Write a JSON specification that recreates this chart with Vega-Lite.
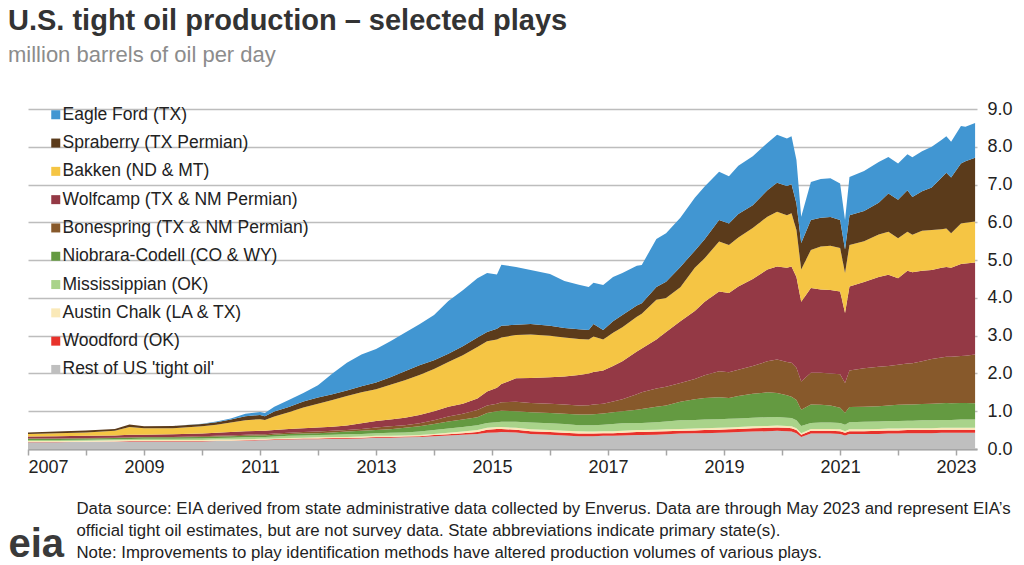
{
  "$schema": "https://vega.github.io/schema/vega-lite/v6.json",
  "width": 949,
  "height": 340,
  "autosize": "none",
  "padding": {"left": 28, "top": 109, "right": 47, "bottom": 116},
  "background": "white",
  "title": {
    "text": "U.S. tight oil production – selected plays",
    "subtitle": "million barrels of oil per day",
    "anchor": "start",
    "frame": "group",
    "dx": -20,
    "offset": 34,
    "font": "Liberation Sans",
    "fontSize": 29,
    "fontWeight": "bold",
    "color": "#333333",
    "subtitleFont": "Liberation Sans",
    "subtitleFontSize": 22,
    "subtitleColor": "#8c8c8c",
    "subtitlePadding": 9
  },
  "datasets": {
    "plays": [
      {"key": "eagleford", "label": "Eagle Ford (TX)", "ord": 9},
      {"key": "spraberry", "label": "Spraberry (TX Permian)", "ord": 8},
      {"key": "bakken", "label": "Bakken (ND & MT)", "ord": 7},
      {"key": "wolfcamp", "label": "Wolfcamp (TX & NM Permian)", "ord": 6},
      {"key": "bone", "label": "Bonespring (TX & NM Permian)", "ord": 5},
      {"key": "niobrara", "label": "Niobrara-Codell (CO & WY)", "ord": 4},
      {"key": "miss", "label": "Mississippian (OK)", "ord": 3},
      {"key": "chalk", "label": "Austin Chalk (LA & TX)", "ord": 2},
      {"key": "woodford", "label": "Woodford (OK)", "ord": 1},
      {"key": "rest", "label": "Rest of US 'tight oil'", "ord": 0}
    ],
    "production": [
      {"date": "2007-01-01", "rest": 0.18, "woodford": 0.005, "chalk": 0.025, "miss": 0.025, "niobrara": 0.035, "bone": 0.01, "wolfcamp": 0.05, "bakken": 0.07, "spraberry": 0.04, "eagleford": 0},
      {"date": "2007-07-01", "rest": 0.18, "woodford": 0.005, "chalk": 0.025, "miss": 0.025, "niobrara": 0.035, "bone": 0.01, "wolfcamp": 0.06, "bakken": 0.08, "spraberry": 0.04, "eagleford": 0},
      {"date": "2008-01-01", "rest": 0.19, "woodford": 0.005, "chalk": 0.025, "miss": 0.025, "niobrara": 0.035, "bone": 0.01, "wolfcamp": 0.06, "bakken": 0.09, "spraberry": 0.05, "eagleford": 0},
      {"date": "2008-07-01", "rest": 0.19, "woodford": 0.01, "chalk": 0.03, "miss": 0.025, "niobrara": 0.035, "bone": 0.01, "wolfcamp": 0.06, "bakken": 0.12, "spraberry": 0.05, "eagleford": 0},
      {"date": "2008-10-01", "rest": 0.2, "woodford": 0.01, "chalk": 0.03, "miss": 0.025, "niobrara": 0.035, "bone": 0.01, "wolfcamp": 0.07, "bakken": 0.2, "spraberry": 0.07, "eagleford": 0},
      {"date": "2009-01-01", "rest": 0.2, "woodford": 0.01, "chalk": 0.03, "miss": 0.03, "niobrara": 0.04, "bone": 0.01, "wolfcamp": 0.06, "bakken": 0.17, "spraberry": 0.05, "eagleford": 0},
      {"date": "2009-07-01", "rest": 0.2, "woodford": 0.01, "chalk": 0.03, "miss": 0.03, "niobrara": 0.04, "bone": 0.01, "wolfcamp": 0.07, "bakken": 0.16, "spraberry": 0.06, "eagleford": 0},
      {"date": "2010-01-01", "rest": 0.2, "woodford": 0.01, "chalk": 0.03, "miss": 0.04, "niobrara": 0.04, "bone": 0.02, "wolfcamp": 0.07, "bakken": 0.19, "spraberry": 0.06, "eagleford": 0.01},
      {"date": "2010-04-01", "rest": 0.21, "woodford": 0.01, "chalk": 0.03, "miss": 0.04, "niobrara": 0.04, "bone": 0.02, "wolfcamp": 0.08, "bakken": 0.21, "spraberry": 0.07, "eagleford": 0.02},
      {"date": "2010-07-01", "rest": 0.21, "woodford": 0.01, "chalk": 0.03, "miss": 0.05, "niobrara": 0.04, "bone": 0.02, "wolfcamp": 0.09, "bakken": 0.25, "spraberry": 0.08, "eagleford": 0.03},
      {"date": "2010-10-01", "rest": 0.22, "woodford": 0.01, "chalk": 0.03, "miss": 0.05, "niobrara": 0.04, "bone": 0.03, "wolfcamp": 0.09, "bakken": 0.29, "spraberry": 0.11, "eagleford": 0.06},
      {"date": "2011-01-01", "rest": 0.23, "woodford": 0.015, "chalk": 0.025, "miss": 0.05, "niobrara": 0.04, "bone": 0.03, "wolfcamp": 0.09, "bakken": 0.31, "spraberry": 0.11, "eagleford": 0.08},
      {"date": "2011-02-01", "rest": 0.23, "woodford": 0.015, "chalk": 0.025, "miss": 0.05, "niobrara": 0.04, "bone": 0.03, "wolfcamp": 0.09, "bakken": 0.29, "spraberry": 0.1, "eagleford": 0.08},
      {"date": "2011-04-01", "rest": 0.24, "woodford": 0.015, "chalk": 0.025, "miss": 0.05, "niobrara": 0.05, "bone": 0.03, "wolfcamp": 0.09, "bakken": 0.36, "spraberry": 0.13, "eagleford": 0.13},
      {"date": "2011-07-01", "rest": 0.25, "woodford": 0.015, "chalk": 0.025, "miss": 0.06, "niobrara": 0.05, "bone": 0.03, "wolfcamp": 0.1, "bakken": 0.44, "spraberry": 0.14, "eagleford": 0.19},
      {"date": "2011-10-01", "rest": 0.26, "woodford": 0.015, "chalk": 0.025, "miss": 0.06, "niobrara": 0.05, "bone": 0.04, "wolfcamp": 0.1, "bakken": 0.55, "spraberry": 0.16, "eagleford": 0.22},
      {"date": "2012-01-01", "rest": 0.26, "woodford": 0.02, "chalk": 0.03, "miss": 0.06, "niobrara": 0.05, "bone": 0.04, "wolfcamp": 0.11, "bakken": 0.63, "spraberry": 0.16, "eagleford": 0.33},
      {"date": "2012-04-01", "rest": 0.27, "woodford": 0.02, "chalk": 0.03, "miss": 0.06, "niobrara": 0.06, "bone": 0.04, "wolfcamp": 0.11, "bakken": 0.71, "spraberry": 0.15, "eagleford": 0.55},
      {"date": "2012-07-01", "rest": 0.27, "woodford": 0.02, "chalk": 0.03, "miss": 0.07, "niobrara": 0.07, "bone": 0.04, "wolfcamp": 0.12, "bakken": 0.78, "spraberry": 0.15, "eagleford": 0.73},
      {"date": "2012-10-01", "rest": 0.28, "woodford": 0.02, "chalk": 0.03, "miss": 0.07, "niobrara": 0.08, "bone": 0.05, "wolfcamp": 0.15, "bakken": 0.82, "spraberry": 0.16, "eagleford": 0.84},
      {"date": "2013-01-01", "rest": 0.3, "woodford": 0.02, "chalk": 0.03, "miss": 0.07, "niobrara": 0.08, "bone": 0.07, "wolfcamp": 0.17, "bakken": 0.84, "spraberry": 0.18, "eagleford": 0.89},
      {"date": "2013-04-01", "rest": 0.3, "woodford": 0.02, "chalk": 0.03, "miss": 0.08, "niobrara": 0.09, "bone": 0.08, "wolfcamp": 0.18, "bakken": 0.92, "spraberry": 0.2, "eagleford": 0.95},
      {"date": "2013-07-01", "rest": 0.31, "woodford": 0.02, "chalk": 0.03, "miss": 0.08, "niobrara": 0.12, "bone": 0.07, "wolfcamp": 0.2, "bakken": 0.99, "spraberry": 0.24, "eagleford": 1.02},
      {"date": "2013-10-01", "rest": 0.32, "woodford": 0.02, "chalk": 0.03, "miss": 0.09, "niobrara": 0.14, "bone": 0.08, "wolfcamp": 0.22, "bakken": 1.06, "spraberry": 0.26, "eagleford": 1.08},
      {"date": "2014-01-01", "rest": 0.34, "woodford": 0.03, "chalk": 0.03, "miss": 0.1, "niobrara": 0.16, "bone": 0.1, "wolfcamp": 0.24, "bakken": 1.12, "spraberry": 0.23, "eagleford": 1.2},
      {"date": "2014-04-01", "rest": 0.36, "woodford": 0.03, "chalk": 0.04, "miss": 0.11, "niobrara": 0.19, "bone": 0.13, "wolfcamp": 0.26, "bakken": 1.18, "spraberry": 0.22, "eagleford": 1.4},
      {"date": "2014-07-01", "rest": 0.38, "woodford": 0.04, "chalk": 0.04, "miss": 0.12, "niobrara": 0.2, "bone": 0.15, "wolfcamp": 0.27, "bakken": 1.28, "spraberry": 0.24, "eagleford": 1.48},
      {"date": "2014-10-01", "rest": 0.4, "woodford": 0.05, "chalk": 0.05, "miss": 0.13, "niobrara": 0.21, "bone": 0.19, "wolfcamp": 0.31, "bakken": 1.36, "spraberry": 0.25, "eagleford": 1.57},
      {"date": "2014-12-01", "rest": 0.43, "woodford": 0.08, "chalk": 0.05, "miss": 0.13, "niobrara": 0.26, "bone": 0.2, "wolfcamp": 0.37, "bakken": 1.33, "spraberry": 0.25, "eagleford": 1.56},
      {"date": "2015-02-01", "rest": 0.44, "woodford": 0.09, "chalk": 0.05, "miss": 0.13, "niobrara": 0.29, "bone": 0.2, "wolfcamp": 0.42, "bakken": 1.28, "spraberry": 0.28, "eagleford": 1.44},
      {"date": "2015-03-01", "rest": 0.45, "woodford": 0.08, "chalk": 0.05, "miss": 0.14, "niobrara": 0.29, "bone": 0.23, "wolfcamp": 0.48, "bakken": 1.23, "spraberry": 0.31, "eagleford": 1.62},
      {"date": "2015-06-01", "rest": 0.44, "woodford": 0.07, "chalk": 0.05, "miss": 0.16, "niobrara": 0.28, "bone": 0.25, "wolfcamp": 0.62, "bakken": 1.15, "spraberry": 0.27, "eagleford": 1.53},
      {"date": "2015-09-01", "rest": 0.4, "woodford": 0.07, "chalk": 0.05, "miss": 0.18, "niobrara": 0.27, "bone": 0.25, "wolfcamp": 0.66, "bakken": 1.15, "spraberry": 0.28, "eagleford": 1.43},
      {"date": "2016-01-01", "rest": 0.38, "woodford": 0.07, "chalk": 0.05, "miss": 0.18, "niobrara": 0.27, "bone": 0.25, "wolfcamp": 0.7, "bakken": 1.1, "spraberry": 0.26, "eagleford": 1.37},
      {"date": "2016-04-01", "rest": 0.36, "woodford": 0.07, "chalk": 0.05, "miss": 0.18, "niobrara": 0.27, "bone": 0.25, "wolfcamp": 0.74, "bakken": 1.03, "spraberry": 0.25, "eagleford": 1.25},
      {"date": "2016-07-01", "rest": 0.34, "woodford": 0.07, "chalk": 0.06, "miss": 0.16, "niobrara": 0.28, "bone": 0.24, "wolfcamp": 0.81, "bakken": 0.95, "spraberry": 0.26, "eagleford": 1.18},
      {"date": "2016-09-01", "rest": 0.34, "woodford": 0.07, "chalk": 0.05, "miss": 0.17, "niobrara": 0.28, "bone": 0.25, "wolfcamp": 0.84, "bakken": 0.9, "spraberry": 0.25, "eagleford": 1.14},
      {"date": "2016-10-01", "rest": 0.34, "woodford": 0.07, "chalk": 0.05, "miss": 0.17, "niobrara": 0.29, "bone": 0.26, "wolfcamp": 0.86, "bakken": 0.94, "spraberry": 0.33, "eagleford": 1.09},
      {"date": "2016-12-01", "rest": 0.35, "woodford": 0.07, "chalk": 0.05, "miss": 0.17, "niobrara": 0.3, "bone": 0.26, "wolfcamp": 0.88, "bakken": 0.82, "spraberry": 0.25, "eagleford": 1.19},
      {"date": "2017-02-01", "rest": 0.35, "woodford": 0.07, "chalk": 0.05, "miss": 0.19, "niobrara": 0.31, "bone": 0.29, "wolfcamp": 0.94, "bakken": 0.88, "spraberry": 0.3, "eagleford": 1.17},
      {"date": "2017-04-01", "rest": 0.36, "woodford": 0.07, "chalk": 0.05, "miss": 0.2, "niobrara": 0.32, "bone": 0.32, "wolfcamp": 1.0, "bakken": 0.9, "spraberry": 0.33, "eagleford": 1.11},
      {"date": "2017-07-01", "rest": 0.37, "woodford": 0.08, "chalk": 0.05, "miss": 0.19, "niobrara": 0.35, "bone": 0.41, "wolfcamp": 1.13, "bakken": 0.92, "spraberry": 0.3, "eagleford": 1.05},
      {"date": "2017-08-01", "rest": 0.37, "woodford": 0.08, "chalk": 0.05, "miss": 0.19, "niobrara": 0.37, "bone": 0.44, "wolfcamp": 1.16, "bakken": 0.92, "spraberry": 0.28, "eagleford": 1.01},
      {"date": "2017-11-01", "rest": 0.38, "woodford": 0.08, "chalk": 0.05, "miss": 0.2, "niobrara": 0.41, "bone": 0.48, "wolfcamp": 1.3, "bakken": 1.05, "spraberry": 0.34, "eagleford": 1.27},
      {"date": "2018-01-01", "rest": 0.39, "woodford": 0.08, "chalk": 0.05, "miss": 0.21, "niobrara": 0.42, "bone": 0.5, "wolfcamp": 1.45, "bakken": 0.9, "spraberry": 0.43, "eagleford": 1.28},
      {"date": "2018-04-01", "rest": 0.41, "woodford": 0.07, "chalk": 0.05, "miss": 0.23, "niobrara": 0.49, "bone": 0.5, "wolfcamp": 1.63, "bakken": 0.9, "spraberry": 0.54, "eagleford": 1.3},
      {"date": "2018-07-01", "rest": 0.42, "woodford": 0.07, "chalk": 0.05, "miss": 0.23, "niobrara": 0.55, "bone": 0.53, "wolfcamp": 1.8, "bakken": 1.15, "spraberry": 0.45, "eagleford": 1.4},
      {"date": "2018-09-01", "rest": 0.42, "woodford": 0.08, "chalk": 0.05, "miss": 0.23, "niobrara": 0.57, "bone": 0.6, "wolfcamp": 1.95, "bakken": 1.15, "spraberry": 0.5, "eagleford": 1.4},
      {"date": "2018-12-01", "rest": 0.43, "woodford": 0.08, "chalk": 0.05, "miss": 0.23, "niobrara": 0.58, "bone": 0.69, "wolfcamp": 2.11, "bakken": 1.32, "spraberry": 0.57, "eagleford": 1.28},
      {"date": "2019-02-01", "rest": 0.44, "woodford": 0.08, "chalk": 0.05, "miss": 0.23, "niobrara": 0.55, "bone": 0.68, "wolfcamp": 2.1, "bakken": 1.27, "spraberry": 0.57, "eagleford": 1.25},
      {"date": "2019-04-01", "rest": 0.45, "woodford": 0.08, "chalk": 0.05, "miss": 0.23, "niobrara": 0.59, "bone": 0.7, "wolfcamp": 2.2, "bakken": 1.3, "spraberry": 0.62, "eagleford": 1.28},
      {"date": "2019-07-01", "rest": 0.46, "woodford": 0.09, "chalk": 0.05, "miss": 0.23, "niobrara": 0.63, "bone": 0.74, "wolfcamp": 2.3, "bakken": 1.35, "spraberry": 0.6, "eagleford": 1.3},
      {"date": "2019-10-01", "rest": 0.47, "woodford": 0.09, "chalk": 0.05, "miss": 0.23, "niobrara": 0.66, "bone": 0.82, "wolfcamp": 2.43, "bakken": 1.4, "spraberry": 0.7, "eagleford": 1.25},
      {"date": "2019-12-01", "rest": 0.48, "woodford": 0.09, "chalk": 0.05, "miss": 0.23, "niobrara": 0.63, "bone": 0.89, "wolfcamp": 2.46, "bakken": 1.45, "spraberry": 0.77, "eagleford": 1.27},
      {"date": "2020-02-01", "rest": 0.47, "woodford": 0.09, "chalk": 0.05, "miss": 0.22, "niobrara": 0.59, "bone": 0.88, "wolfcamp": 2.5, "bakken": 1.39, "spraberry": 0.77, "eagleford": 1.26},
      {"date": "2020-03-01", "rest": 0.46, "woodford": 0.09, "chalk": 0.05, "miss": 0.22, "niobrara": 0.56, "bone": 0.9, "wolfcamp": 2.55, "bakken": 1.41, "spraberry": 0.77, "eagleford": 1.27},
      {"date": "2020-04-01", "rest": 0.42, "woodford": 0.08, "chalk": 0.05, "miss": 0.21, "niobrara": 0.54, "bone": 0.85, "wolfcamp": 2.4, "bakken": 1.25, "spraberry": 0.7, "eagleford": 1.15},
      {"date": "2020-05-01", "rest": 0.32, "woodford": 0.06, "chalk": 0.04, "miss": 0.19, "niobrara": 0.43, "bone": 0.75, "wolfcamp": 2.11, "bakken": 0.85, "spraberry": 0.7, "eagleford": 0.7},
      {"date": "2020-07-01", "rest": 0.41, "woodford": 0.07, "chalk": 0.05, "miss": 0.16, "niobrara": 0.49, "bone": 0.84, "wolfcamp": 2.24, "bakken": 1.01, "spraberry": 0.79, "eagleford": 1.01},
      {"date": "2020-09-01", "rest": 0.41, "woodford": 0.07, "chalk": 0.05, "miss": 0.17, "niobrara": 0.47, "bone": 0.85, "wolfcamp": 2.2, "bakken": 1.14, "spraberry": 0.76, "eagleford": 1.03},
      {"date": "2020-11-01", "rest": 0.41, "woodford": 0.07, "chalk": 0.05, "miss": 0.17, "niobrara": 0.45, "bone": 0.85, "wolfcamp": 2.21, "bakken": 1.17, "spraberry": 0.76, "eagleford": 1.03},
      {"date": "2021-01-01", "rest": 0.4, "woodford": 0.07, "chalk": 0.05, "miss": 0.17, "niobrara": 0.4, "bone": 0.89, "wolfcamp": 2.19, "bakken": 1.15, "spraberry": 0.74, "eagleford": 0.97},
      {"date": "2021-02-01", "rest": 0.36, "woodford": 0.07, "chalk": 0.04, "miss": 0.17, "niobrara": 0.32, "bone": 0.79, "wolfcamp": 1.85, "bakken": 1.06, "spraberry": 0.62, "eagleford": 0.78},
      {"date": "2021-03-01", "rest": 0.4, "woodford": 0.07, "chalk": 0.05, "miss": 0.19, "niobrara": 0.4, "bone": 0.97, "wolfcamp": 2.22, "bakken": 1.1, "spraberry": 0.79, "eagleford": 1.01},
      {"date": "2021-06-01", "rest": 0.4, "woodford": 0.07, "chalk": 0.05, "miss": 0.2, "niobrara": 0.4, "bone": 1.02, "wolfcamp": 2.28, "bakken": 1.08, "spraberry": 0.8, "eagleford": 1.06},
      {"date": "2021-09-01", "rest": 0.4, "woodford": 0.08, "chalk": 0.05, "miss": 0.2, "niobrara": 0.4, "bone": 1.05, "wolfcamp": 2.37, "bakken": 1.13, "spraberry": 0.84, "eagleford": 1.08},
      {"date": "2021-11-01", "rest": 0.41, "woodford": 0.08, "chalk": 0.05, "miss": 0.2, "niobrara": 0.41, "bone": 1.05, "wolfcamp": 2.41, "bakken": 1.14, "spraberry": 1.01, "eagleford": 0.97},
      {"date": "2022-01-01", "rest": 0.41, "woodford": 0.08, "chalk": 0.05, "miss": 0.2, "niobrara": 0.43, "bone": 1.06, "wolfcamp": 2.29, "bakken": 1.06, "spraberry": 1.02, "eagleford": 0.96},
      {"date": "2022-03-01", "rest": 0.42, "woodford": 0.08, "chalk": 0.05, "miss": 0.2, "niobrara": 0.43, "bone": 1.08, "wolfcamp": 2.46, "bakken": 1.03, "spraberry": 1.1, "eagleford": 0.95},
      {"date": "2022-04-01", "rest": 0.42, "woodford": 0.08, "chalk": 0.05, "miss": 0.2, "niobrara": 0.43, "bone": 1.09, "wolfcamp": 2.41, "bakken": 0.99, "spraberry": 1.0, "eagleford": 1.05},
      {"date": "2022-06-01", "rest": 0.42, "woodford": 0.08, "chalk": 0.05, "miss": 0.21, "niobrara": 0.43, "bone": 1.13, "wolfcamp": 2.4, "bakken": 1.06, "spraberry": 1.04, "eagleford": 1.06},
      {"date": "2022-08-01", "rest": 0.42, "woodford": 0.08, "chalk": 0.05, "miss": 0.21, "niobrara": 0.44, "bone": 1.18, "wolfcamp": 2.36, "bakken": 1.06, "spraberry": 1.12, "eagleford": 1.08},
      {"date": "2022-10-01", "rest": 0.43, "woodford": 0.08, "chalk": 0.05, "miss": 0.21, "niobrara": 0.44, "bone": 1.21, "wolfcamp": 2.38, "bakken": 1.02, "spraberry": 1.36, "eagleford": 1.0},
      {"date": "2022-11-01", "rest": 0.43, "woodford": 0.08, "chalk": 0.05, "miss": 0.21, "niobrara": 0.45, "bone": 1.22, "wolfcamp": 2.38, "bakken": 1.02, "spraberry": 1.47, "eagleford": 0.97},
      {"date": "2022-12-01", "rest": 0.43, "woodford": 0.08, "chalk": 0.05, "miss": 0.21, "niobrara": 0.44, "bone": 1.23, "wolfcamp": 2.36, "bakken": 0.91, "spraberry": 1.48, "eagleford": 0.94},
      {"date": "2023-02-01", "rest": 0.43, "woodford": 0.08, "chalk": 0.05, "miss": 0.22, "niobrara": 0.44, "bone": 1.24, "wolfcamp": 2.44, "bakken": 1.07, "spraberry": 1.59, "eagleford": 0.99},
      {"date": "2023-03-01", "rest": 0.43, "woodford": 0.08, "chalk": 0.05, "miss": 0.22, "niobrara": 0.44, "bone": 1.25, "wolfcamp": 2.44, "bakken": 1.08, "spraberry": 1.63, "eagleford": 0.91},
      {"date": "2023-05-01", "rest": 0.43, "woodford": 0.08, "chalk": 0.05, "miss": 0.22, "niobrara": 0.43, "bone": 1.29, "wolfcamp": 2.44, "bakken": 1.08, "spraberry": 1.69, "eagleford": 0.92}
    ]
  },
  "data": {"name": "production"},
  "transform": [
    {"fold": ["rest", "woodford", "chalk", "miss", "niobrara", "bone", "wolfcamp", "bakken", "spraberry", "eagleford"], "as": ["key", "mbd"]},
    {"lookup": "key", "from": {"data": {"name": "plays"}, "key": "key", "fields": ["label", "ord"]}}
  ],
  "mark": {"type": "area", "opacity": 1, "interpolate": "linear"},
  "encoding": {
    "x": {
      "field": "date",
      "type": "temporal",
      "scale": {"type": "utc", "domain": [{"year": 2007, "month": 1, "date": 1, "utc": true}, {"year": 2023, "month": 5, "date": 13, "utc": true}]},
      "axis": {
        "title": [
          "Data source: EIA derived from state administrative data collected by Enverus. Data are through May 2023 and represent EIA’s",
          "official tight oil estimates, but are not survey data. State abbreviations indicate primary state(s).",
          "Note: Improvements to play identification methods have altered production volumes of various plays."
        ],
        "titleFont": "Liberation Sans",
        "titleFontSize": 16.8,
        "titleFontWeight": "normal",
        "titleColor": "#222222",
        "titleAnchor": "start",
        "titleAlign": "left",
        "titleBaseline": "alphabetic",
        "titleX": 48,
        "titleY": 64,
        "titleLineHeight": 22,
        "tickCount": {"interval": "year", "step": 1},
        "labelExpr": "utcyear(datum.value) % 2 == 1 ? utcFormat(datum.value, '%Y') : ''",
        "labelOverlap": false,
        "labelFont": "Liberation Sans",
        "labelFontSize": 18,
        "labelColor": "#222222",
        "labelPadding": 3,
        "tickSize": 6,
        "tickColor": "#a6a6a6",
        "tickWidth": 1.5,
        "domainColor": "#a6a6a6",
        "domainWidth": 2,
        "grid": false
      }
    },
    "y": {
      "field": "mbd",
      "type": "quantitative",
      "stack": "zero",
      "scale": {"domain": [0, 9], "nice": false},
      "axis": {
        "orient": "right",
        "values": [0, 1, 2, 3, 4, 5, 6, 7, 8, 9],
        "format": ".1f",
        "labelFont": "Liberation Sans",
        "labelFontSize": 18,
        "labelColor": "#222222",
        "labelPadding": 10,
        "ticks": false,
        "domain": false,
        "grid": true,
        "gridColor": "#bdbdbd",
        "gridWidth": 1.5,
        "title": "eia",
        "titleAngle": 0,
        "titleFont": "Liberation Sans",
        "titleFontSize": 40,
        "titleFontWeight": "bold",
        "titleColor": "#3a3a3a",
        "titleAlign": "left",
        "titleBaseline": "alphabetic",
        "titleX": -969,
        "titleY": 447
      }
    },
    "color": {
      "field": "label",
      "type": "nominal",
      "scale": {
        "domain": ["Eagle Ford (TX)", "Spraberry (TX Permian)", "Bakken (ND & MT)", "Wolfcamp (TX & NM Permian)", "Bonespring (TX & NM Permian)", "Niobrara-Codell (CO & WY)", "Mississippian (OK)", "Austin Chalk (LA & TX)", "Woodford (OK)", "Rest of US 'tight oil'"],
        "range": ["#4196d2", "#5b3b1b", "#f5c544", "#943945", "#87592b", "#649a41", "#a9d38a", "#fae9b8", "#e8322b", "#bfbfbf"]
      },
      "legend": {
        "orient": "none",
        "legendX": 19,
        "legendY": -3,
        "title": null,
        "symbolType": "square",
        "symbolSize": 81,
        "symbolStrokeWidth": 0,
        "symbolOpacity": 1,
        "labelFont": "Liberation Sans",
        "labelFontSize": 17.5,
        "labelColor": "#222222",
        "labelOffset": -2,
        "rowPadding": 9.3,
        "padding": 0,
        "labelLimit": 400
      }
    },
    "order": {"field": "ord", "type": "quantitative", "sort": "ascending"}
  },
  "config": {"view": {"stroke": null}}
}
